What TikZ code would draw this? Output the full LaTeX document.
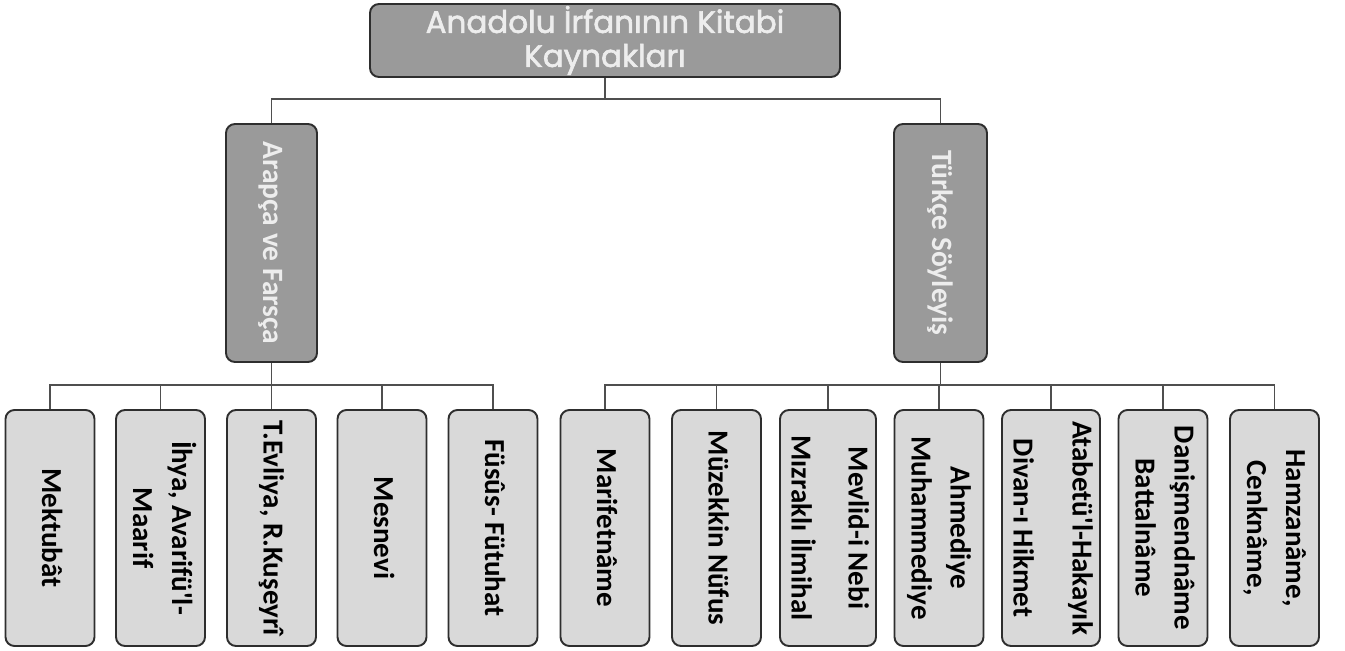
\documentclass[tikz,border=0pt]{standalone}
\usepackage{fontspec}
\usepackage{graphicx}
\setmainfont{Carlito}
\newfontfamily\carl{Carlito}
\newfontfamily\pop{Poppins}[FakeBold=2]
\definecolor{darkfill}{HTML}{9A9A9A}
\definecolor{lightfill}{HTML}{D9D9D9}
\definecolor{edgecol}{HTML}{2E2E2E}
\definecolor{linecol}{HTML}{4F4F4F}
\definecolor{paletext}{HTML}{EDEDED}
\newcommand{\vtext}[1]{\rotatebox{-90}{\begin{tabular}{@{}c@{}}#1\end{tabular}}}
\tikzset{
  titlebox/.style={draw=edgecol, line width=1.9pt, fill=darkfill, rounded corners=9pt,
    minimum width=470pt, minimum height=73pt, inner sep=0pt, align=center,
    text=paletext, font=\pop\fontsize{31}{34}\selectfont},
  midbox/.style={draw=edgecol, line width=1.9pt, fill=darkfill, rounded corners=9pt,
    minimum width=91pt, minimum height=238pt, inner sep=0pt,
    text=paletext, font=\carl\bfseries\fontsize{29.5}{40}\selectfont},
  leafbox/.style={draw=edgecol, line width=1.9pt, fill=lightfill, rounded corners=9pt,
    minimum width=89pt, minimum height=236pt, inner sep=0pt,
    text=black, font=\carl\bfseries\fontsize{29}{39}\selectfont},
  conn/.style={draw=linecol, line width=1.8pt}
}
\begin{document}
\begin{tikzpicture}[x=1pt,y=1pt]
\useasboundingbox (0,0) rectangle (1345,-651);
\fill[white] (0,0) rectangle (1345,-651);

\node[titlebox] (top) at (605,-40.5) {Anadolu İrfanının Kitabi\\Kaynakları};
\node[midbox] (ar) at (271.5,-243) {\vtext{Arapça ve Farsça}};
\node[midbox, minimum width=93pt] (tr) at (940.5,-243) {\vtext{Türkçe Söyleyiş}};

\node[leafbox] (b1) at (50,-528) {\vtext{Mektubât}};
\node[leafbox] (b2) at (160.5,-528) {\vtext{İhya, Avarifü'l-\\Maarif}};
\node[leafbox] (b3) at (271.5,-528) {\vtext{T.Evliya, R.Kuşeyrî}};
\node[leafbox] (b4) at (382,-528) {\vtext{Mesnevi}};
\node[leafbox] (b5) at (493,-528) {\vtext{Füsûs- Fütuhat}};
\node[leafbox] (b6) at (605,-528) {\vtext{Marifetnâme}};
\node[leafbox] (b7) at (716.5,-528) {\vtext{Müzekkin Nüfus}};
\node[leafbox] (b8) at (828,-528) {\vtext{Mevlid-i Nebi\\[18pt]Mızraklı İlmihal}};
\node[leafbox] (b9) at (939,-528) {\vtext{Ahmediye\\Muhammediye}};
\node[leafbox] (b10) at (1051,-528) {\vtext{Atabetü'l-Hakayık\\[20pt]Divan-ı Hikmet}};
\node[leafbox] (b11) at (1163,-528) {\vtext{Danişmendnâme\\Battalnâme}};
\node[leafbox] (b12) at (1274.5,-528) {\vtext{Hamzanâme,\\Cenknâme,}};

\coordinate (j1) at (605,-99);
\coordinate (j2) at (271.5,-385);
\coordinate (j3) at (940.5,-385);

\draw[conn] (top.south) -- (j1);
\draw[conn] (ar.north) |- (j1) -| (tr.north);

\draw[conn] (ar.south) -- (j2);
\draw[conn] (b1.north) |- (j2) -| (b5.north);
\draw[conn] (b2.north) -- (b2.north |- j2);
\draw[conn] (b3.north) -- (j2);
\draw[conn] (b4.north) -- (b4.north |- j2);

\draw[conn] (tr.south) -- (j3);
\draw[conn] (b6.north) |- (j3) -| (b12.north);
\draw[conn] (b7.north) -- (b7.north |- j3);
\draw[conn] (b8.north) -- (b8.north |- j3);
\draw[conn] (b9.north) -- (b9.north |- j3);
\draw[conn] (b10.north) -- (b10.north |- j3);
\draw[conn] (b11.north) -- (b11.north |- j3);
\end{tikzpicture}
\end{document}
